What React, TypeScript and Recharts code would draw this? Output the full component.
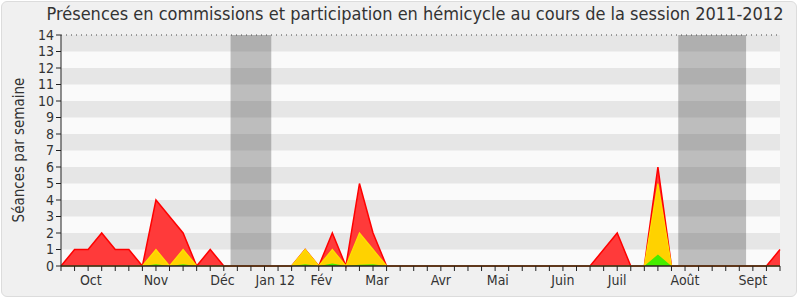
import React from 'react';
import { ComposedChart, Area, XAxis, YAxis, CartesianGrid, ReferenceArea, ReferenceLine } from 'recharts';

// Weekly values, session 2011-2012 (54 weeks)
const red = [0, 1, 1, 2, 1, 1, 0, 4, 3, 2, 0, 1, 0, 0, 0, 0, 0, 0, 1, 0, 2, 0, 5, 2, 0, 0, 0, 0, 0, 0, 0, 0, 0, 0, 0, 0, 0, 0, 0, 0, 1, 2, 0, 0, 6, 0, 0, 0, 0, 0, 0, 0, 0, 1];
const yellow = [0, 0, 0, 0, 0, 0, 0, 1, 0, 1, 0, 0, 0, 0, 0, 0, 0, 0, 1, 0, 1, 0, 2, 1, 0, 0, 0, 0, 0, 0, 0, 0, 0, 0, 0, 0, 0, 0, 0, 0, 0, 0, 0, 0, 5, 0, 0, 0, 0, 0, 0, 0, 0, 0];
const green = [0, 0, 0, 0, 0, 0, 0, 0.1, 0, 0.1, 0, 0, 0, 0, 0, 0, 0, 0, 0.1, 0, 0.15, 0, 0.08, 0.1, 0, 0, 0, 0, 0, 0, 0, 0, 0, 0, 0, 0, 0, 0, 0, 0, 0, 0, 0, 0, 0.7, 0, 0, 0, 0, 0, 0, 0, 0, 0];

const monthLabels = ['Oct', 'Nov', 'Déc', 'Jan 12', 'Fév', 'Mar', 'Avr', 'Mai', 'Juin', 'Juil', 'Août', 'Sept'];
const monthPositions = [2.2, 7, 11.9, 15.8, 19.2, 23.3, 28, 32.2, 37, 41, 46, 51];

const yTicks = [0, 1, 2, 3, 4, 5, 6, 7, 8, 9, 10, 11, 12, 13, 14];
const greyStripes = [1, 3, 5, 7, 9, 11, 13];
const holidays: [number, number][] = [[12.5, 15.5], [45.5, 50.5]];

const weekIndex = red.map((_, i) => i);
const data = weekIndex.map((i) => ({ i, red: red[i], yellow: yellow[i], green: green[i] }));

const FONT = '"DejaVu Sans Condensed", "DejaVu Sans", sans-serif';
const TEXT = '#333333';

export default function App() {
  const labelFor = (v: number) => {
    const k = monthPositions.indexOf(v);
    return k >= 0 ? monthLabels[k] : '';
  };
  return (
    <div style={{ position: 'absolute', left: 0, top: 0, width: 800, height: 300, background: '#ffffff', fontFamily: FONT }}>
      <div style={{ position: 'absolute', left: 1, top: 1, width: 794, height: 294, background: '#f0f0f0', border: '1px solid #dcdcdc', borderRadius: 6 }} />
      <div style={{ position: 'absolute', left: 30, top: 3, width: 770, textAlign: 'center', fontSize: 18, color: TEXT, fontFamily: FONT, whiteSpace: 'nowrap' }}>
        Présences en commissions et participation en hémicycle au cours de la session 2011-2012
      </div>
      <svg style={{ position: 'absolute', left: 0, top: 0 }} width={40} height={300}>
        <text transform="translate(24,150) rotate(-90)" textAnchor="middle" fontSize={15} fill={TEXT} fontFamily={FONT}>
          Séances par semaine
        </text>
      </svg>
      <div style={{ position: 'absolute', left: 0, top: 0 }}>
        <ComposedChart width={800} height={300} data={data} margin={{ top: 35, right: 20, left: 0, bottom: 4 }}>
          <CartesianGrid xAxisId="a" fill="#fafafa" horizontal={false} vertical={false} />
          {greyStripes.map((s) => (
            <ReferenceArea key={'s' + s} xAxisId="a" y1={s} y2={s + 1} fill="#e6e6e6" fillOpacity={1} stroke="none" ifOverflow="hidden" />
          ))}
          {holidays.map(([a, b]) => (
            <ReferenceArea key={'h' + a} xAxisId="a" x1={a} x2={b} fill="#323232" fillOpacity={0.3} stroke="none" />
          ))}
          <ReferenceLine xAxisId="a" y={14} stroke="#444" strokeDasharray="1 4" />
          <XAxis
            xAxisId="b"
            type="number"
            domain={[0, 53]}
            ticks={monthPositions}
            interval={0}
            tickFormatter={labelFor}
            axisLine={false}
            tickLine={false}
            tickSize={0}
            tickMargin={3}
            height={24}
            tick={{ fill: TEXT, fontSize: 14, fontFamily: FONT }}
          />
          <XAxis
            xAxisId="a"
            dataKey="i"
            type="number"
            domain={[0, 53]}
            ticks={weekIndex}
            interval={0}
            tickFormatter={() => ''}
            tickSize={5}
            height={6}
            stroke="#222"
            allowDecimals={false}
          />
          <YAxis
            domain={[0, 14]}
            ticks={yTicks}
            interval={0}
            width={61}
            tickSize={5}
            tickMargin={2}
            stroke="#222"
            tick={{ fill: TEXT, fontSize: 14, fontFamily: FONT }}
          />
          <Area xAxisId="a" type="linear" dataKey="red" stroke="#ff0000" strokeWidth={1.5} fill="#ff3a3a" fillOpacity={1} dot={false} activeDot={false} isAnimationActive={false} />
          <Area xAxisId="a" type="linear" dataKey="yellow" stroke="#ffe000" strokeWidth={1.2} fill="#ffd200" fillOpacity={1} dot={false} activeDot={false} isAnimationActive={false} />
          <Area xAxisId="a" type="linear" dataKey="green" stroke="none" fill="#44ee00" fillOpacity={1} dot={false} activeDot={false} isAnimationActive={false} />
          <ReferenceLine xAxisId="a" y={0} stroke="#3a1010" strokeWidth={1.2} />
        </ComposedChart>
      </div>
    </div>
  );
}
